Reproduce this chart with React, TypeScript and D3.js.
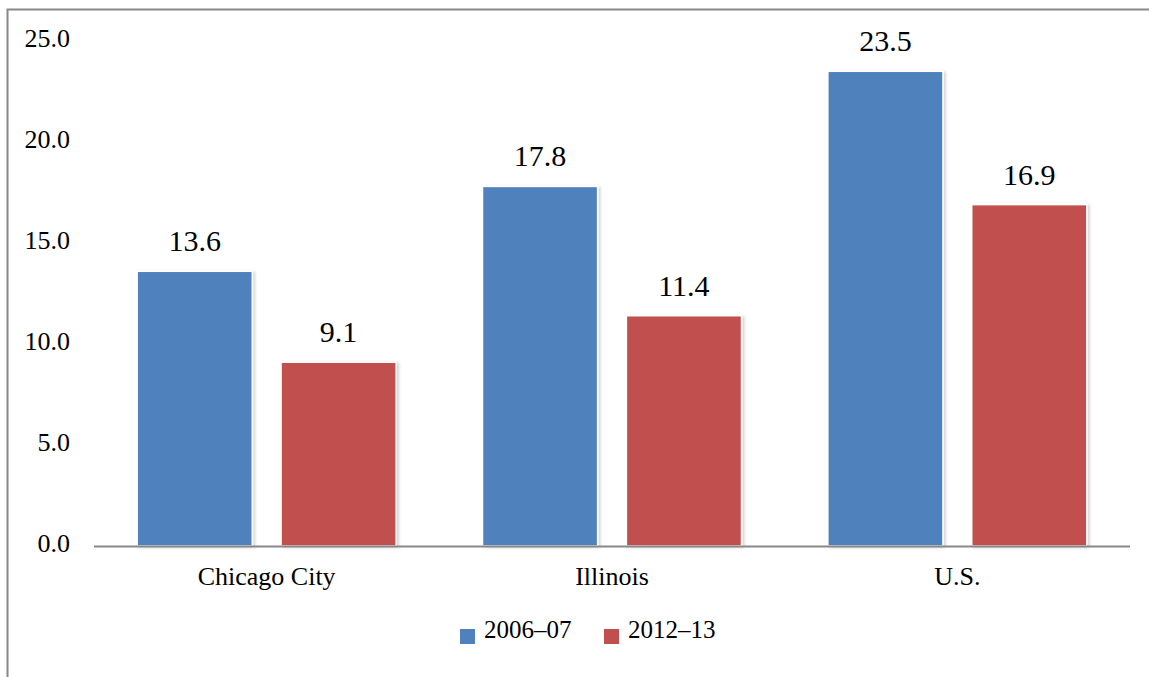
import React from "react";
import * as d3 from "d3";

const categories = ["Chicago City", "Illinois", "U.S."];
const seriesNames = ["2006–07", "2012–13"];
const series2006 = [13.6, 17.8, 23.5];
const series2012 = [9.1, 11.4, 16.9];
const yTicks = [0, 5, 10, 15, 20, 25];
const colors = ["#4F81BD", "#C0504D"];

const W = 1149;
const H = 677;

export default function App() {
  const left = 94, right = 1130, top = 41, bottom = 546;
  const x0 = d3.scaleBand<string>().domain(categories).range([left, right]).paddingInner(0.25).paddingOuter(0.125);
  const x1 = d3.scaleBand<string>().domain(seriesNames).range([0, x0.bandwidth()]).paddingInner(0.2);
  const y = d3.scaleLinear().domain([0, 25]).range([bottom, top]);
  const data = [series2006, series2012];
  const font = "'Liberation Serif', 'Times New Roman', Times, 'DejaVu Serif', serif";

  return (
    <svg width={W} height={H} style={{ position: "absolute", left: 0, top: 0, background: "#fff" }}>
      <defs>
        <filter id="sh" x="-10%" y="-10%" width="130%" height="120%">
          <feDropShadow dx="2" dy="1" stdDeviation="1.5" floodColor="#000" floodOpacity="0.18" />
        </filter>
      </defs>
      <rect x={7.5} y={9.5} width={W + 10} height={H + 10} fill="none" stroke="#888" strokeWidth={2} />
      {yTicks.map((t) => (
        <text key={t} x={70} y={y(t) + 6} textAnchor="end" fontSize={26} fill="#000" fontFamily={font}>
          {t.toFixed(1)}
        </text>
      ))}
      {categories.map((c, ci) =>
        seriesNames.map((s, si) => {
          const v = data[si][ci];
          const bx = (x0(c) as number) + (x1(s) as number);
          const bw = x1.bandwidth();
          return (
            <g key={c + s}>
              <rect x={bx} y={y(v)} width={bw} height={bottom - y(v)} fill={colors[si]} stroke="#fff" strokeWidth={1.5} filter="url(#sh)" />
              <text x={bx + bw / 2} y={y(v) - 20} textAnchor="middle" fontSize={30} fill="#000" fontFamily={font}>
                {v.toFixed(1)}
              </text>
            </g>
          );
        })
      )}
      <line x1={left} x2={right} y1={bottom + 0.5} y2={bottom + 0.5} stroke="#888" strokeWidth={2} />
      {categories.map((c) => (
        <text key={c} x={(x0(c) as number) + x0.bandwidth() / 2} y={585} textAnchor="middle" fontSize={26} fill="#000" fontFamily={font}>
          {c}
        </text>
      ))}
      {seriesNames.map((s, i) => {
        const lx = i === 0 ? 460 : 604;
        return (
          <g key={s}>
            <rect x={lx} y={629} width={15} height={15} fill={colors[i]} />
            <text x={lx + 24} y={638} fontSize={25} fill="#000" fontFamily={font}>
              {s}
            </text>
          </g>
        );
      })}
    </svg>
  );
}
